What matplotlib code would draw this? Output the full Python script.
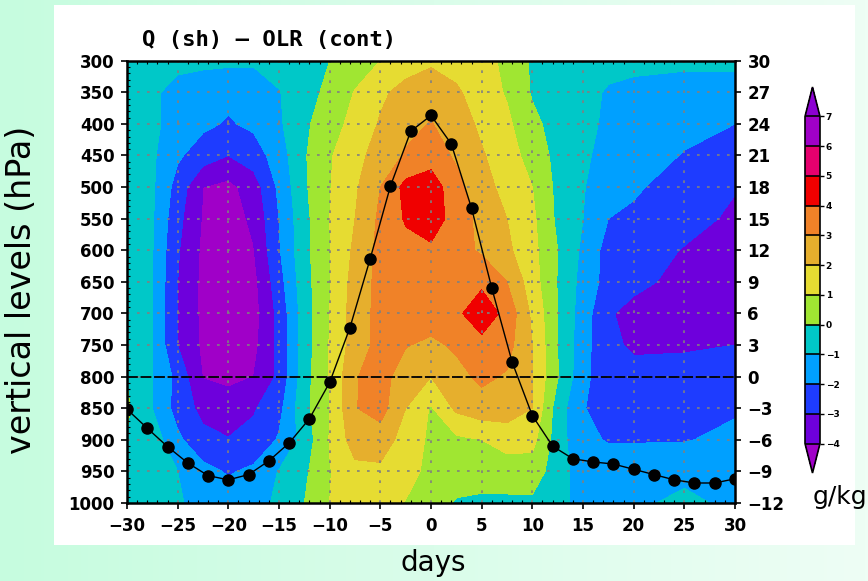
import numpy as np
import matplotlib.pyplot as plt
from matplotlib.colors import ListedColormap, BoundaryNorm, LinearSegmentedColormap
from matplotlib.patches import Rectangle

# specific humidity anomaly (g/kg); one row per level, one value per day
days = [-30, -27.5, -25, -22.5, -20, -17.5, -15, -12.5, -10, -7.5, -5, -2.5, 0,
        2.5, 5, 7.5, 10, 12.5, 15, 17.5, 20, 25, 30]
levels = [300, 350, 400, 450, 500, 550, 600, 650, 700, 750, 800, 850, 900, 950, 1000]
q = [
    [-0.5, -0.6, -0.75, -0.75, -0.8, -0.85, -0.6, -0.3, 0.0, 0.5, 1.0, 1.5, 1.8, 1.6, 1.3, 0.8, -0.15, -0.35, -0.5, -0.7, -0.8, -0.85, -0.8],
    [-0.5, -0.85, -1.3, -1.6, -1.75, -1.6, -1.05, -0.4, 0.25, 1.05, 1.8, 2.35, 2.7, 2.15, 1.5, 0.9, -0.1, -0.4, -0.7, -1.1, -1.2, -1.3, -1.4],
    [-0.5, -0.8, -1.4, -1.8, -2.1, -1.8, -1.15, -0.2, 0.6, 1.3, 2.1, 2.7, 3.05, 2.5, 1.8, 1.2, 0.25, -0.4, -0.85, -1.1, -1.35, -1.75, -2.0],
    [-0.5, -0.85, -1.85, -2.5, -3.0, -2.5, -1.5, -0.1, 0.9, 1.7, 2.4, 3.1, 3.5, 2.85, 2.1, 1.45, 0.6, -0.3, -0.85, -1.3, -1.6, -2.05, -2.4],
    [-0.5, -0.85, -2.4, -4.0, -4.3, -3.5, -1.8, -0.15, 0.95, 1.85, 3.0, 4.3, 4.6, 3.3, 2.4, 1.65, 1.0, -0.25, -0.95, -1.5, -1.85, -2.5, -2.95],
    [-0.55, -0.9, -2.7, -4.1, -4.5, -3.8, -2.0, -0.3, 1.0, 2.0, 3.2, 4.1, 4.6, 3.5, 2.7, 2.0, 1.2, -0.2, -1.0, -2.0, -2.2, -2.7, -3.15],
    [-0.55, -0.95, -2.9, -4.2, -4.6, -4.05, -2.1, -0.3, 0.95, 2.2, 3.3, 3.7, 3.8, 3.4, 2.85, 2.2, 1.3, 0.0, -1.2, -2.4, -2.6, -3.05, -3.3],
    [-0.55, -1.0, -3.0, -4.25, -4.7, -4.3, -2.4, -0.4, 0.95, 2.4, 3.3, 3.5, 3.6, 3.65, 3.8, 3.0, 1.45, -0.05, -1.35, -2.4, -2.75, -3.3, -3.4],
    [-0.55, -1.0, -3.0, -4.25, -4.7, -4.4, -2.7, -0.5, 1.0, 2.5, 3.3, 3.45, 3.5, 3.8, 4.6, 3.7, 1.8, 0.0, -1.5, -2.9, -3.3, -3.4, -3.3],
    [-0.5, -1.0, -3.0, -4.2, -4.6, -4.3, -2.7, -0.5, 1.05, 2.5, 3.3, 3.05, 2.8, 3.15, 3.7, 3.35, 2.0, 0.0, -1.6, -2.85, -3.1, -3.05, -3.0],
    [-0.05, -1.0, -2.3, -4.05, -4.2, -4.0, -2.8, -0.4, 1.05, 2.95, 3.3, 2.6, 2.0, 2.7, 3.2, 2.9, 2.0, 0.05, -1.7, -2.7, -2.8, -2.85, -2.75],
    [0.15, -1.0, -2.4, -3.3, -3.6, -3.1, -2.3, -0.3, 1.0, 2.95, 3.4, 2.0, 0.9, 2.2, 2.6, 2.5, 2.0, -0.5, -1.95, -2.4, -2.4, -2.35, -2.1],
    [-0.05, -0.45, -1.8, -2.7, -2.95, -2.7, -1.9, -0.6, 1.05, 2.5, 2.5, 1.6, 0.8, 0.8, 1.0, 1.4, 1.3, -0.5, -1.85, -2.05, -2.05, -2.05, -1.8],
    [-0.4, -0.6, -1.0, -1.7, -2.1, -1.8, -0.95, -0.2, 0.95, 1.7, 1.8, 1.4, 0.7, 0.5, 0.45, 0.5, 0.55, -0.55, -1.5, -1.6, -1.6, -1.35, -1.5],
    [-0.5, -0.7, -0.9, -1.3, -1.5, -1.3, -0.85, 0.0, 1.0, 1.4, 1.45, 0.95, 0.4, -0.1, -0.2, -0.2, -0.2, -0.75, -1.3, -1.35, -1.25, -0.7, -1.3],
]

# OLR anomaly (right axis), every 2 days
olr_days = list(range(-30, 31, 2))
olr = [-3.1, -4.9, -6.65, -8.2, -9.4, -9.8, -9.3, -8.0, -6.3, -4.0, -0.55,
       4.65, 11.2, 18.1, 23.3, 24.8, 22.1, 16.0, 8.4, 1.4, -3.7,
       -6.6, -7.8, -8.1, -8.3, -8.8, -9.3, -9.8, -10.1, -10.1, -9.7]

q_bounds = [-4, -3, -2, -1, 0, 1, 2, 3, 4, 5, 6, 7]
q_colors = ['#6e00dc', '#1e3cff', '#00a0ff', '#00c8c8', '#a0e632', '#e6dc32',
            '#e6af2d', '#f08228', '#f00000', '#e6006e', '#a000c8']

W, H = 868, 581
fig = plt.figure(figsize=(W / 100, H / 100), dpi=100)

# mint background with white panel
bg = fig.add_axes([0, 0, 1, 1], zorder=-10)
grad = np.linspace(0, 1, 256).reshape(1, -1)
bg.imshow(grad, extent=[0, W, H, 0], aspect='auto',
          cmap=LinearSegmentedColormap.from_list('bg', ['#c6fcdf', '#eefef5']))
bg.add_patch(Rectangle((54, 5), 801, 540, facecolor='white', edgecolor='none'))
bg.set_xlim(0, W)
bg.set_ylim(H, 0)
bg.axis('off')

ax = fig.add_axes([127 / W, 1 - 503 / H, (735 - 127) / W, (503 - 60.7) / H])

cmap = ListedColormap(q_colors)
cmap.set_under('#a000c8')
cmap.set_over('#8c00d2')
norm = BoundaryNorm(q_bounds, cmap.N)

cf = ax.contourf(days, levels, np.array(q), levels=q_bounds, cmap=cmap, norm=norm,
                 extend='both')

ax.set_xlim(-30, 30)
ax.set_ylim(1000, 300)

for d in range(-25, 30, 5):
    ax.axvline(d, color='#808080', lw=1.2, dashes=(1.6, 4.4), zorder=2)
for p in range(350, 1000, 50):
    ax.axhline(p, color='#808080', lw=1.2, dashes=(1.6, 4.4), zorder=2)
ax.axhline(800, color='black', lw=1.3, dashes=(6, 1.5), zorder=3)

ax.set_xticks(range(-30, 31, 5))
ax.set_xticks(range(-30, 31, 1), minor=True)
ax.set_yticks(levels)
ax.set_yticks(range(300, 1001, 10), minor=True)
ax.tick_params(axis='both', which='major', direction='out', length=4, width=1.2,
               labelsize=12, pad=5)
ax.tick_params(axis='x', which='major', pad=6)
ax.tick_params(axis='both', which='minor', direction='in', length=2, width=0.8,
               top=True)
for s in ax.spines.values():
    s.set_linewidth(1.8)

ax2 = ax.twinx()
ax2.set_ylim(-12, 30)
ax2.set_yticks(range(-12, 31, 3))
ax2.tick_params(axis='y', direction='out', length=4, width=1.2, labelsize=12, pad=5)
ax2.plot(olr_days, olr, color='black', lw=1.0, marker='o', ms=8,
         mfc='black', mec='black')
for s in ax2.spines.values():
    s.set_visible(False)

for t in ax.get_xticklabels() + ax.get_yticklabels() + ax2.get_yticklabels():
    t.set_fontweight('bold')

fig.text(142 / W, 1 - 40 / H, 'Q (sh) \u2013 OLR (cont)', family='DejaVu Sans Mono',
         fontsize=16, fontweight='bold', ha='left', va='center')
fig.text(22 / W, 1 - 290 / H, 'vertical levels (hPa)', rotation=90, fontsize=24,
         ha='center', va='center')
fig.text(433 / W, 1 - 563 / H, 'days', fontsize=20, ha='center', va='center')
fig.text(840 / W, 1 - 497 / H, 'g/kg', fontsize=18, ha='center', va='center')

# colour bar
cax = fig.add_axes([805 / W, 1 - 473 / H, 15 / W, (473 - 87) / H])
cb = fig.colorbar(cf, cax=cax, extend='both', extendfrac=0.09, drawedges=True,
                  ticks=q_bounds)
cb.outline.set_linewidth(1.2)
cb.dividers.set_linewidth(1.2)
cb.ax.tick_params(labelsize=6.5, length=3, width=1, pad=1)
for t in cb.ax.get_yticklabels():
    t.set_fontweight('bold')

fig.savefig('out.png', dpi=100)
